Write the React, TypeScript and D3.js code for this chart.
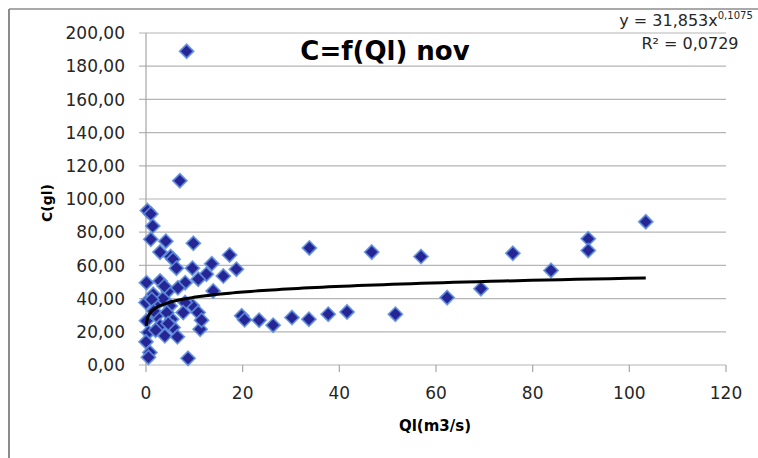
import React from "react";
import * as d3 from "d3";

const qValues = [8.4, 7.0, 0.3, 1.0, 1.4, 1.0, 4.1, 9.8, 2.9, 5.1, 5.6, 17.3, 6.3, 9.6, 13.6, 18.7, 12.5, 10.8, 16.0, 8.1, 0.1, 2.9, 13.9, 1.5, 4.6, 0.0, 2.2, 5.0, 9.6, 8.1, 7.7, 10.8, 2.2, 5.3, 0.1, 2.9, 5.6, 11.2, 11.5, 0.5, 3.9, 6.5, 0.0, 0.8, 0.5, 8.7, 4.3, 3.5, 19.8, 20.4, 23.4, 26.3, 30.2, 33.7, 37.7, 41.6, 51.6, 62.3, 69.3, 75.9, 56.9, 46.7, 33.8, 83.8, 91.5, 91.5, 103.4, 1.2, 3.8, 1.6, 4.6, 2.0, 6.6];
const cValues = [189, 111, 93, 91, 83.7, 75.7, 74.6, 73.3, 68, 65.3, 63.7, 66.3, 58.3, 58.3, 61, 57.7, 54.7, 51.7, 53.6, 49.6, 49.6, 50.6, 44.6, 42.6, 44.6, 37.6, 36.6, 35.6, 35.8, 37.6, 31.6, 31.6, 29.6, 27.6, 26.6, 23.6, 22.6, 21.6, 27, 19.6, 17.6, 17, 14, 7.6, 4.6, 4.0, 31.6, 40, 29.6, 27.2, 27, 24, 28.6, 27.6, 30.6, 32, 30.6, 40.6, 46, 67.3, 65.3, 68, 70.5, 57, 76, 69, 86.3, 39.5, 47.5, 32.5, 25, 21, 46.5];

const xTicks = [0, 20, 40, 60, 80, 100, 120];
const yTicks = [0, 20, 40, 60, 80, 100, 120, 140, 160, 180, 200];

const fitA = 31.853;
const fitB = 0.1075;
const fitR2 = "0,0729";
const fitXMin = 0.06;
const fitXMax = 103.4;

const W = 758;
const H = 458;

export default function App() {
  const x = d3.scaleLinear().domain([0, 120]).range([146, 726]);
  const y = d3.scaleLinear().domain([0, 200]).range([365, 33]);

  const fmtY = (v: number) => v.toFixed(2).replace(".", ",");

  const trendX = d3.range(0, 201).map((i) => fitXMin * Math.pow(fitXMax / fitXMin, i / 200));
  const trend = d3
    .line<number>()
    .x((d) => x(d))
    .y((d) => y(fitA * Math.pow(d, fitB)))
    .curve(d3.curveLinear)(trendX) as string;

  const font = "'DejaVu Sans', sans-serif";
  const r = 7;
  const diamond = `M0,${-r}L${r},0L0,${r}L${-r},0Z`;

  return (
    <svg
      width={W}
      height={H}
      style={{ position: "absolute", left: 0, top: 0, background: "#fff" }}
    >
      <rect x={0} y={0} width={W} height={H} fill="#fff" />
      {/* chart border */}
      <line x1={9} y1={9} x2={W} y2={9} stroke="#8c8c8c" strokeWidth={1.5} />
      <line x1={9} y1={9} x2={9} y2={H} stroke="#8c8c8c" strokeWidth={2} />

      {/* gridlines + y ticks */}
      {yTicks.map((t) => (
        <g key={"g" + t}>
          <line x1={139} x2={x(120)} y1={y(t)} y2={y(t)} stroke="#b5b5b5" strokeWidth={1.2} />
          <text
            x={125}
            y={y(t)}
            dy="0.36em"
            textAnchor="end"
            fontFamily={font}
            fontSize={17}
            fill="#262626"
          >
            {fmtY(t)}
          </text>
        </g>
      ))}
      {/* y axis line */}
      <line x1={x(0)} x2={x(0)} y1={y(200)} y2={y(0)} stroke="#a6a6a6" strokeWidth={1.2} />
      {/* x ticks */}
      {xTicks.map((t) => (
        <g key={"x" + t}>
          <line x1={x(t)} x2={x(t)} y1={y(0)} y2={y(0) + 7} stroke="#a6a6a6" strokeWidth={1.2} />
          <text
            x={x(t)}
            y={393}
            dy="0.36em"
            textAnchor="middle"
            fontFamily={font}
            fontSize={17}
            fill="#262626"
          >
            {t}
          </text>
        </g>
      ))}

      {/* points */}
      {qValues.map((q, i) => (
        <path
          key={"p" + i}
          d={diamond}
          transform={`translate(${x(q)},${y(cValues[i])})`}
          fill="#252595"
          stroke="#5f8fdc"
          strokeWidth={1.8}
          strokeOpacity={0.85}
        />
      ))}

      {/* trendline */}
      <path d={trend} fill="none" stroke="#000" strokeWidth={3} />

      {/* title */}
      <text
        x={385}
        y={60}
        textAnchor="middle"
        fontFamily={font}
        fontWeight="bold"
        fontSize={26}
        fill="#000"
      >
        C=f(Ql) nov
      </text>

      {/* equation */}
      <text x={686} y={26} textAnchor="middle" fontFamily={font} fontSize={16} fill="#262626">
        <tspan>{`y = ${String(fitA).replace(".", ",")}x`}</tspan>
        <tspan fontSize={10} dy={-7}>{String(fitB).replace(".", ",")}</tspan>
      </text>
      <text x={690} y={49} textAnchor="middle" fontFamily={font} fontSize={16} fill="#262626">
        {`R² = ${fitR2}`}
      </text>

      {/* axis titles */}
      <text
        transform={`translate(52,203) rotate(-90)`}
        textAnchor="middle"
        fontFamily={font}
        fontWeight="bold"
        fontSize={14}
        fill="#000"
      >
        C(gl)
      </text>
      <text
        x={435}
        y={431}
        textAnchor="middle"
        fontFamily={font}
        fontWeight="bold"
        fontSize={15}
        fill="#000"
      >
        Ql(m3/s)
      </text>
    </svg>
  );
}
